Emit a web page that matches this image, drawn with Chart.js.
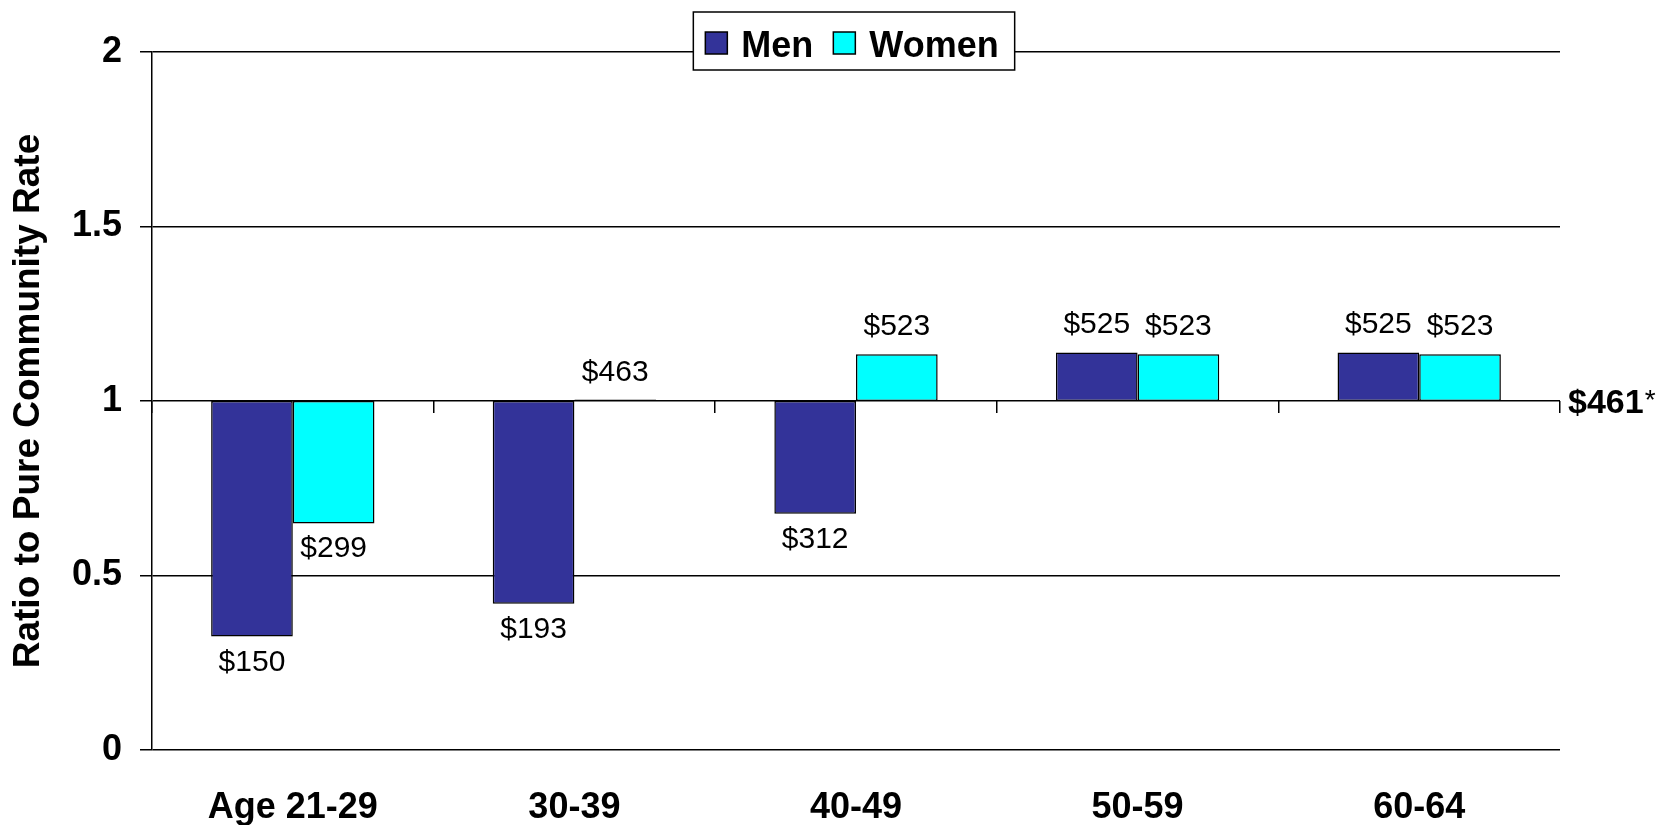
<!DOCTYPE html>
<html>
<head>
<meta charset="utf-8">
<script src="https://cdn.jsdelivr.net/npm/chart.js@4.4.0/dist/chart.umd.min.js"></script>
<style>
  body { margin: 0; background: #fff; }
  #wrap { width: 1667px; height: 825px; }
</style>
</head>
<body>
<div id="wrap"><canvas id="rateChart"></canvas></div>
<script>
// categories and values (ratio to the pure community rate of $461)
const ageGroups = ['Age 21-29', '30-39', '40-49', '50-59', '60-64'];
const menRatio = [0.325, 0.419, 0.677, 1.139, 1.139];
const womenRatio = [0.649, 1.004, 1.134, 1.134, 1.134];
const menLabels = ['$150', '$193', '$312', '$525', '$525'];
const womenLabels = ['$299', '$463', '$523', '$523', '$523'];
const baseRatio = 1;
const baseLabel = '$461';
const yTicks = [0, 0.5, 1, 1.5, 2];

const FONT = "'Liberation Sans', Arial, sans-serif";

// bars float from the 1.0 line
function floating(values) {
  return values.map(v => [baseRatio, v]);
}

// dollar labels above / below each bar
const barLabels = {
  id: 'barLabels',
  afterDatasetsDraw(chart) {
    const ctx = chart.ctx;
    const yScale = chart.scales.y;
    ctx.save();
    ctx.font = '30px ' + FONT;
    ctx.fillStyle = '#000';
    ctx.textAlign = 'center';
    ctx.textBaseline = 'alphabetic';
    chart.data.datasets.forEach((ds, i) => {
      const meta = chart.getDatasetMeta(i);
      meta.data.forEach((bar, j) => {
        const v = ds.data[j][1];
        const end = yScale.getPixelForValue(v);
        const y = v >= baseRatio ? end - 19 : end + 34;
        ctx.fillText(ds.valueLabels[j], bar.x, y);
      });
    });
    // base rate label at the right end of the 1.0 line
    const yPix = yScale.getPixelForValue(baseRatio);
    const x0 = chart.chartArea.right + 8;
    ctx.textAlign = 'left';
    ctx.font = 'bold 34px ' + FONT;
    ctx.fillText(baseLabel, x0, yPix + 12);
    const w = ctx.measureText(baseLabel).width;
    ctx.font = '28px ' + FONT;
    ctx.fillText('*', x0 + w + 1, yPix + 8);
    ctx.restore();
  }
};

// boxed legend sitting on the top gridline
const boxLegend = {
  id: 'boxLegend',
  afterDraw(chart) {
    const ctx = chart.ctx;
    const area = chart.chartArea;
    ctx.save();
    ctx.font = 'bold 36px ' + FONT;
    const items = chart.data.datasets.map(ds => ({
      text: ds.label, color: ds.backgroundColor, w: ctx.measureText(ds.label).width
    }));
    const sw = 22, padL = 12, padR = 16, gapText = 14, gapItem = 20;
    let total = padL + padR;
    items.forEach((it, k) => { total += sw + gapText + it.w + (k ? gapItem : 0); });
    const boxTop = 12, boxH = 58;
    const left = (area.left + area.right) / 2 - total / 2 - 2;
    ctx.fillStyle = '#fff';
    ctx.fillRect(left, boxTop, total, boxH);
    ctx.strokeStyle = '#000';
    ctx.lineWidth = 1.5;
    ctx.strokeRect(left, boxTop, total, boxH);
    let x = left + padL;
    items.forEach((it, k) => {
      if (k) x += gapItem;
      ctx.fillStyle = it.color;
      ctx.fillRect(x, boxTop + 20, sw, sw);
      ctx.strokeRect(x, boxTop + 20, sw, sw);
      x += sw + gapText;
      ctx.fillStyle = '#000';
      ctx.textBaseline = 'alphabetic';
      ctx.fillText(it.text, x, boxTop + 45);
      x += it.w;
    });
    ctx.restore();
  }
};

const ctx = document.getElementById('rateChart').getContext('2d');
new Chart(ctx, {
  type: 'bar',
  data: {
    labels: ageGroups,
    datasets: [
      {
        label: 'Men',
        data: floating(menRatio),
        valueLabels: menLabels,
        backgroundColor: '#333399',
        borderColor: '#000',
        borderWidth: 1.5,
        borderSkipped: false
      },
      {
        label: 'Women',
        data: floating(womenRatio),
        valueLabels: womenLabels,
        backgroundColor: '#00ffff',
        borderColor: '#000',
        borderWidth: 1.5,
        borderSkipped: false
      }
    ]
  },
  options: {
    responsive: true,
    maintainAspectRatio: false,
    animation: false,
    layout: { padding: { top: 52, right: 107, left: 0, bottom: 0 } },
    datasets: { bar: { categoryPercentage: 0.58, barPercentage: 1.0 } },
    plugins: {
      legend: { display: false },
      tooltip: { enabled: false }
    },
    scales: {
      x: {
        grid: { display: false, drawTicks: false },
        border: { display: false },
        ticks: {
          color: '#000',
          padding: 36,
          font: { family: FONT, size: 36, weight: 'bold' }
        },
        afterFit(scale) { scale.height = 75; }
      },
      // tick marks along the 1.0 line between categories
      x2: {
        type: 'category',
        position: { y: baseRatio },
        grid: { offset: true, drawOnChartArea: false, tickLength: 12, color: '#000', lineWidth: 1.5 },
        border: { display: false },
        ticks: { display: false }
      },
      y: {
        min: 0,
        max: 2,
        afterBuildTicks(scale) { scale.ticks = yTicks.map(v => ({ value: v })); },
        grid: { color: '#000', lineWidth: 1.5, tickLength: 12 },
        border: { display: true, color: '#000', width: 1.5 },
        ticks: {
          color: '#000',
          padding: 18,
          font: { family: FONT, size: 36, weight: 'bold' },
          callback: v => String(v)
        },
        title: {
          display: true,
          text: 'Ratio to Pure Community Rate',
          color: '#000',
          padding: { top: 7, bottom: 0 },
          font: { family: FONT, size: 37, weight: 'bold' }
        },
        afterFit(scale) { scale.width = 152; }
      }
    }
  },
  plugins: [barLabels, boxLegend]
});
</script>
</body>
</html>
